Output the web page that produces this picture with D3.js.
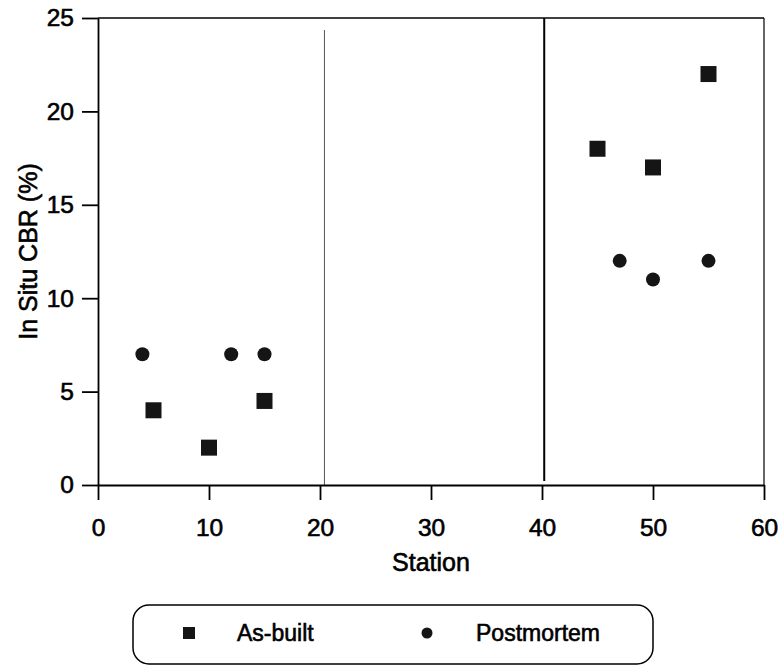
<!DOCTYPE html>
<html>
<head>
<meta charset="utf-8">
<script src="https://cdn.jsdelivr.net/npm/d3@7/dist/d3.min.js"></script>
<style>
  body { margin: 0; background: #fff; }
  svg { display: block; }
  text { font-family: "Liberation Sans", Arial, Helvetica, sans-serif; fill: #000; stroke: #000; stroke-width: 0.6px; }
</style>
</head>
<body>
<svg id="chart" width="779" height="666"></svg>
<script>
// ---- data ----
const asBuiltStation = [5, 10, 15, 45, 50, 55];
const asBuiltCBR = [4, 2, 4.5, 18, 17, 22];
const postStation = [4, 12, 15, 47, 50, 55];
const postCBR = [7, 7, 7, 12, 11, 12];
const xTicks = [0, 10, 20, 30, 40, 50, 60];
const yTicks = [0, 5, 10, 15, 20, 25];
const refLines = [20.4, 40.2];
const legendLabels = ["As-built", "Postmortem"];

const svg = d3.select("#chart");
const x = d3.scaleLinear().domain([0, 60]).range([98, 764]);
const y = d3.scaleLinear().domain([0, 25]).range([485, 18]);

const tickFont = 24.5;
const titleFont = 25;
const legendFont = 23;

// reference lines
svg.append("line")
  .attr("x1", x(refLines[0])).attr("x2", x(refLines[0]))
  .attr("y1", 30).attr("y2", y(0))
  .attr("stroke", "#555").attr("stroke-width", 1);
svg.append("line")
  .attr("x1", x(refLines[1])).attr("x2", x(refLines[1]))
  .attr("y1", y(25)).attr("y2", y(0) - 4)
  .attr("stroke", "#000").attr("stroke-width", 2);

// frame top & right
svg.append("line").attr("x1", x(0)).attr("x2", x(60)).attr("y1", y(25)).attr("y2", y(25))
  .attr("stroke", "#000").attr("stroke-width", 1.6);
svg.append("line").attr("x1", x(60)).attr("x2", x(60)).attr("y1", y(25)).attr("y2", y(0))
  .attr("stroke", "#000").attr("stroke-width", 1.2);

// axes
const xAxis = svg.append("g").attr("transform", `translate(0,${y(0)})`)
  .call(d3.axisBottom(x).tickValues(xTicks).tickSize(15).tickPadding(19).tickSizeOuter(0));
const yAxis = svg.append("g").attr("transform", `translate(${x(0)},0)`)
  .call(d3.axisLeft(y).tickValues(yTicks).tickSize(16).tickPadding(8).tickSizeOuter(0));
[xAxis, yAxis].forEach(g => {
  g.selectAll("path, line").attr("stroke", "#000").attr("stroke-width", 1.8);
  g.selectAll("text").attr("font-size", tickFont).attr("fill", "#000")
    .style("font-family", '"Liberation Sans", Arial, sans-serif');
});

// axis titles
svg.append("text").attr("x", (x(0) + x(60)) / 2).attr("y", 571)
  .attr("text-anchor", "middle").attr("font-size", titleFont).text("Station");
svg.append("text").attr("transform", `translate(37,${(y(0) + y(25)) / 2}) rotate(-90)`)
  .attr("text-anchor", "middle").attr("font-size", titleFont).text("In Situ CBR (%)");

// markers
const sq = 16;
svg.append("g").selectAll("rect").data(asBuiltStation).join("rect")
  .attr("x", (d) => x(d) - sq / 2)
  .attr("y", (d, i) => y(asBuiltCBR[i]) - sq / 2)
  .attr("width", sq).attr("height", sq)
  .attr("fill", "#151515");
svg.append("g").selectAll("circle").data(postStation).join("circle")
  .attr("cx", (d) => x(d))
  .attr("cy", (d, i) => y(postCBR[i]))
  .attr("r", 7)
  .attr("fill", "#151515");

// legend
const lg = svg.append("g");
lg.append("rect").attr("x", 133).attr("y", 605).attr("width", 520).attr("height", 59)
  .attr("rx", 16).attr("ry", 16)
  .attr("fill", "none").attr("stroke", "#000").attr("stroke-width", 1.5);
lg.append("rect").attr("x", 183).attr("y", 627).attr("width", 12).attr("height", 12).attr("fill", "#151515");
lg.append("text").attr("x", 237).attr("y", 641).attr("font-size", legendFont).text(legendLabels[0]);
lg.append("circle").attr("cx", 427).attr("cy", 633).attr("r", 5.5).attr("fill", "#151515");
lg.append("text").attr("x", 476).attr("y", 641).attr("font-size", legendFont).text(legendLabels[1]);
</script>
</body>
</html>
